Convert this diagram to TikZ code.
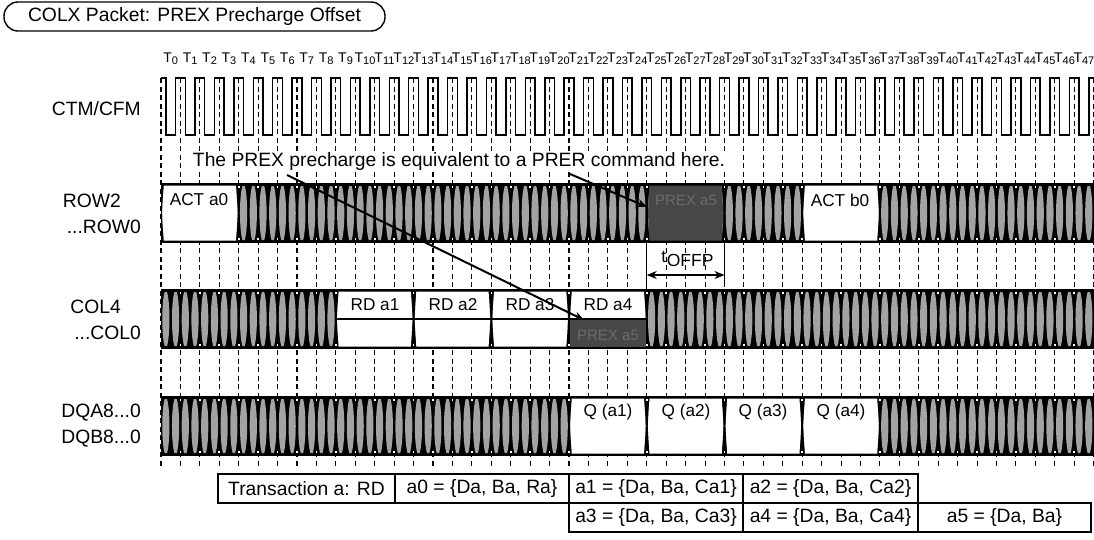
\documentclass[tikz,border=0pt]{standalone}
\usepackage{fontspec}
\setmainfont{Liberation Sans}
\usetikzlibrary{arrows.meta}

\tikzset{
    x=1pt, y=-1pt,
    sig/.style={font=\fontsize{19.3}{21}\selectfont, anchor=east, inner sep=0pt},
    boxtext/.style={font=\fontsize{17.2}{19}\selectfont, inner sep=0pt},
    dimtext/.style={font=\fontsize{15}{17}\selectfont, inner sep=0pt, text=black!58},
    tlabel/.style={font=\fontsize{14}{16}\selectfont, inner sep=0pt},
    cell/.style={draw, line width=1.3pt, font=\fontsize{19.3}{21}\selectfont, inner sep=0pt, minimum height=29pt},
    tickline/.style={dash pattern=on 5pt off 3.5pt, line width=1.1pt},
    pointer/.style={line width=2pt, -{Stealth[length=10pt,width=8pt]}}
}
% x position of clock edge #1
\newcommand{\tx}[1]{161+19.43*(#1)}
% hexagon for a bus cell: from edge, to edge, top, bottom, colour
\newcommand{\buscell}[5]{
    \fill[#5] ({\tx{#1}+2.7}, #3+1.5) -- ({\tx{#2}-2.7}, #3+1.5) -- ({\tx{#2}-1.2}, {(#3+#4)/2}) -- ({\tx{#2}-2.7}, #4-1.5)
        -- ({\tx{#1}+2.7}, #4-1.5) -- ({\tx{#1}+1.2}, {(#3+#4)/2}) -- cycle;
}
% hatched bus over the whole width: top, bottom
\newcommand{\busbar}[2]{
    \fill[black] ({\tx{0}}, #1-1) rectangle ({\tx{48}}, #2+1);
    \foreach \i in {0,...,95} {
        \pgfmathsetmacro{\c}{\tx{\i/2+.25}}
        \fill[black!36] (\c-1.2, #1+2) -- (\c+1.2, #1+2) .. controls (\c+4.4, {(#1+#2)/2-16}) and (\c+4.4, {(#1+#2)/2+16}) .. (\c+1.2, #2-2)
            -- (\c-1.2, #2-2) .. controls (\c-4.4, {(#1+#2)/2+16}) and (\c-4.4, {(#1+#2)/2-16}) .. cycle;
    }
    \foreach \n in {1,...,47} {
        \fill[white] ({\tx{\n}-.8}, #1+2) rectangle ({\tx{\n}+.8}, #1+3.6);
        \fill[white] ({\tx{\n}-.8}, #2-3.6) rectangle ({\tx{\n}+.8}, #2-2);
    }
}

\begin{document}
\begin{tikzpicture}
        \useasboundingbox (0, 0) rectangle (1094, 539);
        % Title
        \node (title) at (194.5, 16.5) [draw, line width=1.4pt, rounded corners=14pt, minimum width=381pt, minimum height=29pt, inner sep=0pt, font=\fontsize{19.3}{21}\selectfont] {COLX Packet: PREX Precharge Offset};
        % Clock edges
        \foreach \n in {0,...,48} {
            \draw[tickline] ({\tx{\n}}, 78) -- ({\tx{\n}}, 468);
        }
        \foreach \n in {0,...,47} {
            \node (t\n) at ({\tx{\n}+9.7}, 58.5) [tlabel] {T\raisebox{-.3ex}{\fontsize{11}{12}\selectfont\n}};
        }
        % Clock
        \draw[line width=1.5pt] ({\tx{0}}, 78) -- ({\tx{.25}}, 78)
            \foreach \n in {0,...,46} {
                -- ({\tx{\n+.25}}, 135) -- ({\tx{\n+.75}}, 135) -- ({\tx{\n+.75}}, 78) -- ({\tx{\n+1.25}}, 78)
            }
            -- ({\tx{47.25}}, 135) -- ({\tx{47.75}}, 135) -- ({\tx{47.75}}, 78) -- ({\tx{48}}, 78);
        % Signal names
        \node (ctm) at (141, 108.5) [sig] {CTM/CFM};
        \node (row2) at (121, 200.5) [sig] {ROW2};
        \node (row0) at (141, 226.5) [sig] {...ROW0};
        \node (col4) at (121, 306.5) [sig] {COL4};
        \node (col0) at (141, 332.5) [sig] {...COL0};
        \node (dqa) at (141, 412.5) [sig] {DQA8...0};
        \node (dqb) at (141, 438.5) [sig] {DQB8...0};
        % Note
        \node (note) at (459, 162) [fill=white, inner xsep=2pt, inner ysep=1pt, font=\fontsize{19.3}{21}\selectfont] {The PREX precharge is equivalent to a PRER command here.};
        % Buses
        \busbar{184}{242}
        \busbar{290}{348}
        \busbar{397}{455}
        % ROW bus
        \buscell{0}{4}{184}{242}{white}
        \buscell{25}{29}{184}{242}{black!72}
        \buscell{33}{37}{184}{242}{white}
        \node (acta) at (199, 200) [boxtext] {ACT a0};
        \node (prexr) at (686, 200) [dimtext] {PREX a5};
        \node (actb) at (840, 200) [boxtext] {ACT b0};
        % COL bus
        \buscell{9}{13}{290}{348}{white}
        \buscell{13}{17}{290}{348}{white}
        \buscell{17}{21}{290}{348}{white}
        \buscell{21}{25}{290}{348}{white}
        \fill[black!72] ({\tx{21}+1}, 319) rectangle ({\tx{25}-1}, 347);
        \draw[line width=2pt] ({\tx{9}}, 319) -- ({\tx{25}}, 319);
        \node (rda1) at (375, 305) [boxtext] {RD a1};
        \node (rda2) at (453, 305) [boxtext] {RD a2};
        \node (rda3) at (530, 305) [boxtext] {RD a3};
        \node (rda4) at (608, 305) [boxtext] {RD a4};
        \node (prexc) at (608, 335) [dimtext] {PREX a5};
        % DQ bus
        \buscell{21}{25}{397}{455}{white}
        \buscell{25}{29}{397}{455}{white}
        \buscell{29}{33}{397}{455}{white}
        \buscell{33}{37}{397}{455}{white}
        \node (qa1) at (608, 412) [boxtext] {Q (a1)};
        \node (qa2) at (686, 412) [boxtext] {Q (a2)};
        \node (qa3) at (763, 412) [boxtext] {Q (a3)};
        \node (qa4) at (841, 412) [boxtext] {Q (a4)};
        % Offset
        \coordinate (offl) at ({\tx{25}}, 242);
        \coordinate (offr) at ({\tx{29}}, 242);
        \coordinate (offlb) at ({\tx{25}}, 290);
        \coordinate (offrb) at ({\tx{29}}, 285);
        \draw[line width=1.4pt] (offl) -- (offlb);
        \draw[line width=1.4pt] (offr) -- (offrb);
        \coordinate (arrl) at ({\tx{25}}, 275);
        \coordinate (arrr) at ({\tx{29}}, 275);
        \draw[line width=1.2pt, {Stealth[length=10pt,width=8pt]}-{Stealth[length=10pt,width=8pt]}] (arrl) -- (arrr);
        \node (toff) at (687.5, 259) [inner sep=0pt, font=\fontsize{17.5}{19}\selectfont] {t\kern.5pt\raisebox{-.4ex}{OFFP}};
        % Pointers
        \coordinate (p1) at (287, 175);
        \coordinate (p1e) at (584, 320);
        \coordinate (p2) at (570, 174);
        \coordinate (p2e) at (647, 207);
        \draw[pointer] (p1) -- (p1e);
        \draw[pointer] (p2) -- (p2e);
        % Table
        \node (trans) at (306.5, 488.5) [cell, minimum width=177pt] {Transaction a: RD};
        \node (a0) at (482, 488.5) [cell, minimum width=174pt] {a0 = \{Da, Ba, Ra\}};
        \node (a1) at (656, 488.5) [cell, minimum width=174pt] {a1 = \{Da, Ba, Ca1\}};
        \node (a2) at (830.5, 488.5) [cell, minimum width=175pt] {a2 = \{Da, Ba, Ca2\}};
        \node (a3) at (656, 517.5) [cell, minimum width=174pt] {a3 = \{Da, Ba, Ca3\}};
        \node (a4) at (830.5, 517.5) [cell, minimum width=175pt] {a4 = \{Da, Ba, Ca4\}};
        \node (a5) at (1004.5, 517.5) [cell, minimum width=173pt] {a5 = \{Da, Ba\}};
    \end{tikzpicture}
\end{document}
